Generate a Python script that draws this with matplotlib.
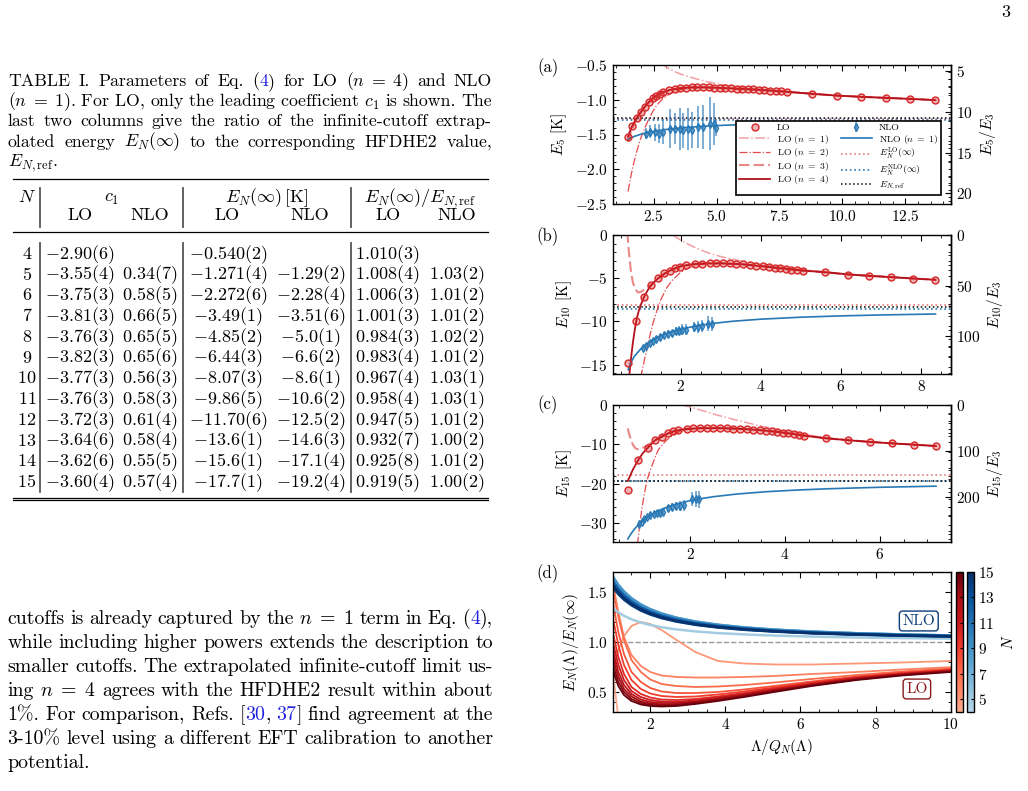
import re
import numpy as np
import matplotlib.pyplot as plt
from matplotlib.colors import ListedColormap, Normalize
from matplotlib.cm import ScalarMappable
from matplotlib.lines import Line2D
from matplotlib.ticker import MultipleLocator, FixedLocator

plt.rcParams['font.family'] = ['cmr10', 'DejaVu Serif']
plt.rcParams['mathtext.fontset'] = 'cm'
plt.rcParams['axes.formatter.use_mathtext'] = True
plt.rcParams['xtick.direction'] = 'in'
plt.rcParams['ytick.direction'] = 'in'
plt.rcParams['xtick.top'] = True
plt.rcParams['ytick.right'] = True
plt.rcParams['xtick.labelsize'] = 11
plt.rcParams['ytick.labelsize'] = 11
plt.rcParams['axes.linewidth'] = 1.0
plt.rcParams['xtick.major.size'] = 4
plt.rcParams['ytick.major.size'] = 4
plt.rcParams['xtick.minor.size'] = 2
plt.rcParams['ytick.minor.size'] = 2

# ---------------- table data ----------------
N_list = [4, 5, 6, 7, 8, 9, 10, 11, 12, 13, 14, 15]
c1_lo = ['-2.90(6)', '-3.55(4)', '-3.75(3)', '-3.81(3)', '-3.76(3)', '-3.82(3)',
         '-3.77(3)', '-3.76(3)', '-3.72(3)', '-3.64(6)', '-3.62(6)', '-3.60(4)']
c1_nlo = ['', '0.34(7)', '0.58(5)', '0.66(5)', '0.65(5)', '0.65(6)',
          '0.56(3)', '0.58(3)', '0.61(4)', '0.58(4)', '0.55(5)', '0.57(4)']
einf_lo = ['-0.540(2)', '-1.271(4)', '-2.272(6)', '-3.49(1)', '-4.85(2)', '-6.44(3)',
           '-8.07(3)', '-9.86(5)', '-11.70(6)', '-13.6(1)', '-15.6(1)', '-17.7(1)']
einf_nlo = ['', '-1.29(2)', '-2.28(4)', '-3.51(6)', '-5.0(1)', '-6.6(2)',
            '-8.6(1)', '-10.6(2)', '-12.5(2)', '-14.6(3)', '-17.1(4)', '-19.2(4)']
ratio_lo = ['1.010(3)', '1.008(4)', '1.006(3)', '1.001(3)', '0.984(3)', '0.983(4)',
            '0.967(4)', '0.958(4)', '0.947(5)', '0.932(7)', '0.925(8)', '0.919(5)']
ratio_nlo = ['', '1.03(2)', '1.01(2)', '1.01(2)', '1.02(2)', '1.01(2)',
             '1.03(1)', '1.03(1)', '1.01(2)', '1.00(2)', '1.01(2)', '1.00(2)']

E3 = -0.1173

# ---------------- panel (a): N = 5 ----------------
a_lo_x = [1.48, 1.65, 1.82, 2.00, 2.14, 2.30, 2.46, 2.60, 2.74, 2.88, 3.12, 3.34, 3.56,
          3.79, 4.01, 4.23, 4.45, 4.68, 4.90, 5.12, 5.34, 5.57, 5.79, 6.01, 6.23, 6.46,
          6.68, 6.90, 7.12, 7.35, 7.57, 7.79, 8.80, 9.77, 10.75, 11.72, 12.70, 13.69]
a_lo_E = [-1.543, -1.377, -1.268, -1.173, -1.102, -1.036, -0.979, -0.945, -0.912, -0.889,
          -0.862, -0.845, -0.835, -0.826, -0.822, -0.821, -0.821, -0.823, -0.826, -0.829,
          -0.832, -0.836, -0.840, -0.844, -0.848, -0.852, -0.857, -0.862, -0.867, -0.873,
          -0.879, -0.886, -0.915, -0.940, -0.958, -0.973, -0.988, -1.005]
a_nlo_x = [2.21, 2.37, 2.54, 2.71, 2.87, 3.13, 3.33, 3.53, 3.66, 3.86, 4.02, 4.26, 4.46,
           4.72, 4.88, 4.99]
a_nlo_E = [-1.486, -1.457, -1.47, -1.486, -1.457, -1.415, -1.415, -1.425, -1.438, -1.425,
           -1.438, -1.39, -1.39, -1.344, -1.344, -1.40]
a_nlo_err = [0.08, 0.10, 0.12, 0.14, 0.18, 0.28, 0.22, 0.30, 0.25, 0.30, 0.26, 0.30, 0.32,
             0.38, 0.30, 0.12]
a_fit_x = [1.48, 1.56, 1.65, 1.74, 1.82, 1.91, 2.0, 2.14, 2.3, 2.46, 2.6, 2.74, 2.88, 3.12,
           3.34, 3.56, 3.79, 4.01, 4.45, 4.9, 5.57, 6.23, 6.9, 7.57, 8.8, 9.77, 10.75,
           11.72, 12.7, 13.69]
a_n4 = [-1.53, -1.45, -1.375, -1.315, -1.265, -1.215, -1.172, -1.103, -1.037, -0.98,
        -0.944, -0.913, -0.89, -0.862, -0.845, -0.834, -0.826, -0.822, -0.821, -0.826,
        -0.836, -0.848, -0.862, -0.879, -0.915, -0.94, -0.958, -0.973, -0.988, -1.005]
a_n3 = [-1.60, -1.50, -1.40, -1.33, -1.275, -1.22, -1.175, -1.104, -1.037, -0.98,
        -0.944, -0.913, -0.89, -0.862, -0.845, -0.834, -0.826, -0.822, -0.821, -0.826,
        -0.836, -0.848, -0.862, -0.879, -0.915, -0.94, -0.958, -0.973, -0.988, -1.005]
a_n2 = [-2.32, -2.16, -2.0, -1.86, -1.75, -1.64, -1.54, -1.41, -1.28, -1.17, -1.09, -1.03,
        -0.98, -0.92, -0.88, -0.855, -0.838, -0.828, -0.822, -0.826, -0.836, -0.848,
        -0.862, -0.879, -0.915, -0.94, -0.958, -0.973, -0.988, -1.005]
a_n1_x = [2.8, 3.0, 3.3, 3.6, 4.0, 4.5, 5.0, 5.57, 6.23, 6.9, 7.57, 8.8, 9.77, 10.75,
          11.72, 12.7, 13.69]
a_n1 = [-0.47, -0.53, -0.59, -0.635, -0.68, -0.73, -0.77, -0.80, -0.83, -0.855, -0.875,
        -0.91, -0.937, -0.957, -0.972, -0.987, -1.004]
a_nlofit_x = [1.48, 1.7, 2.0, 2.3, 2.7, 3.2, 3.8, 4.5, 5.3, 6.3, 7.5, 9.0, 11.0, 13.69]
a_nlofit = [-1.567, -1.531, -1.495, -1.468, -1.442, -1.418, -1.398, -1.381, -1.367,
            -1.355, -1.345, -1.336, -1.327, -1.32]
a_lines = [-1.271, -1.29, -1.261]   # LO inf, NLO inf, ref

# ---------------- panel (b): N = 10 ----------------
b_lo_x = [0.687, 0.878, 1.077, 1.268, 1.435, 1.576, 1.726, 1.85, 1.975, 2.14, 2.35, 2.52,
          2.72, 2.89, 3.06, 3.22, 3.39, 3.56, 3.72, 3.89, 4.06, 4.21, 4.35, 4.47, 4.62,
          4.76, 4.89, 5.05, 5.59, 6.17, 6.71, 7.25, 7.79, 8.36]
b_lo_E = [-14.81, -10.0, -7.23, -5.77, -5.0, -4.42, -4.12, -3.85, -3.65, -3.46, -3.35,
          -3.31, -3.27, -3.27, -3.28, -3.30, -3.35, -3.40, -3.47, -3.55, -3.63, -3.72,
          -3.80, -3.86, -3.93, -4.0, -4.06, -4.12, -4.31, -4.58, -4.73, -4.88, -5.04, -5.19]
b_nlo_x = [1.045, 1.127, 1.227, 1.31, 1.39, 1.476, 1.58, 1.68, 1.77, 1.87, 1.95, 2.03,
           2.14, 2.33, 2.43, 2.53, 2.68, 2.77]
b_nlo_E = [-13.07, -12.88, -12.5, -12.23, -12.04, -11.81, -11.58, -11.42, -11.35, -11.15,
           -11.08, -10.96, -10.96, -10.69, -10.65, -10.58, -10.27, -10.27]
b_nlo_err = [0.2, 0.2, 0.25, 0.25, 0.3, 0.3, 0.35, 0.4, 0.4, 0.45, 0.5, 0.6, 0.6, 0.6,
             0.7, 0.7, 0.9, 0.8]
b_fit_x = [0.687, 0.72, 0.76, 0.8, 0.85, 0.9, 0.95, 1.0, 1.1, 1.2, 1.3, 1.45, 1.6, 1.8,
           2.0, 2.3, 2.6, 3.0, 3.5, 4.0, 4.5, 5.05, 5.6, 6.2, 6.7, 7.25, 7.8, 8.36]
b_n4 = [-17.5, -16.0, -14.2, -12.6, -11.0, -9.7, -8.8, -8.1, -7.0, -6.2, -5.6, -4.95,
        -4.45, -3.95, -3.62, -3.38, -3.29, -3.28, -3.38, -3.60, -3.86, -4.12, -4.31,
        -4.58, -4.73, -4.88, -5.04, -5.19]
b_n3_x = [0.665, 0.7, 0.75, 0.8, 0.85, 0.93, 1.0, 1.1, 1.2, 1.3, 1.45, 1.6, 1.8, 2.0,
          2.3, 2.6, 3.0, 3.5, 4.0, 4.5, 5.05, 5.6, 6.2, 6.7, 7.25, 7.8, 8.36]
b_n3 = [0.3, -1.8, -4.0, -5.4, -6.2, -6.65, -6.6, -6.3, -5.95, -5.6, -5.0, -4.5, -3.98,
        -3.64, -3.39, -3.30, -3.28, -3.38, -3.60, -3.86, -4.12, -4.31, -4.58, -4.73,
        -4.88, -5.04, -5.19]
b_n2_x = [1.0, 1.1, 1.2, 1.3, 1.4, 1.5, 1.65, 1.8, 2.0, 2.2, 2.4, 2.7, 3.0, 3.5, 4.0,
          4.5, 5.05, 5.6, 6.2, 6.7, 7.25, 7.8, 8.36]
b_n2 = [-16.5, -14.3, -12.2, -10.3, -8.8, -7.5, -6.1, -5.2, -4.3, -3.8, -3.48, -3.32,
        -3.29, -3.38, -3.60, -3.86, -4.12, -4.31, -4.58, -4.73, -4.88, -5.04, -5.19]
b_n1_x = [1.8, 2.0, 2.2, 2.4, 2.7, 3.0, 3.4, 3.9, 4.5, 5.05, 5.6, 6.2, 6.7, 7.25, 7.8, 8.36]
b_n1 = [0.0, -0.6, -1.1, -1.55, -2.1, -2.5, -2.9, -3.3, -3.72, -4.02, -4.28, -4.52,
        -4.69, -4.86, -5.02, -5.18]
b_nlofit_x = [0.687, 0.75, 0.85, 1.0, 1.15, 1.3, 1.5, 1.75, 2.0, 2.4, 2.8, 3.3, 4.0, 5.0,
              6.0, 7.0, 8.36]
b_nlofit = [-15.6, -14.8, -14.0, -13.2, -12.6, -12.14, -11.67, -11.23, -10.9, -10.52,
            -10.24, -9.99, -9.75, -9.52, -9.37, -9.26, -9.15]
b_lines = [-8.07, -8.6, -8.345]

# ---------------- panel (c): N = 15 ----------------
c_lo_x = [0.688, 0.912, 1.11, 1.263, 1.404, 1.53, 1.65, 1.754, 1.93, 2.07, 2.21, 2.35,
          2.49, 2.63, 2.77, 2.91, 3.05, 3.19, 3.33, 3.47, 3.60, 3.72, 3.84, 3.96, 4.07,
          4.18, 4.29, 4.39, 4.86, 5.33, 5.79, 6.26, 6.72, 7.18]
c_lo_E = [-21.6, -13.98, -10.85, -8.9, -8.05, -7.2, -6.61, -6.36, -6.08, -5.95, -5.89,
          -5.87, -5.87, -5.89, -5.93, -5.98, -6.05, -6.14, -6.25, -6.38, -6.52, -6.67,
          -6.84, -7.02, -7.2, -7.38, -7.57, -7.76, -8.45, -8.95, -9.38, -9.75, -10.08, -10.42]
c_nlo_x = [0.926, 0.983, 1.038, 1.095, 1.158, 1.23, 1.3, 1.37, 1.44, 1.53, 1.615, 1.7,
           1.79, 1.88, 2.035, 2.12, 2.196]
c_nlo_E = [-30.26, -29.66, -29.07, -28.56, -28.05, -27.71, -27.54, -27.37, -27.12, -26.27,
           -25.85, -25.68, -25.68, -25.51, -23.98, -23.9, -23.98]
c_nlo_err = [0.4, 0.4, 0.45, 0.45, 0.5, 0.5, 0.55, 0.6, 0.7, 0.8, 1.0, 1.1, 1.2, 1.3,
             1.8, 2.0, 2.2]
c_fit_x = [0.688, 0.75, 0.8, 0.86, 0.912, 1.0, 1.11, 1.263, 1.404, 1.53, 1.65, 1.754,
           1.93, 2.21, 2.49, 2.77, 3.05, 3.33, 3.6, 3.84, 4.07, 4.39, 4.86, 5.33, 5.79,
           6.26, 6.72, 7.18]
c_n4 = [-19.3, -17.6, -16.3, -15.0, -13.9, -12.3, -10.85, -8.95, -8.05, -7.25, -6.7,
        -6.42, -6.08, -5.89, -5.87, -5.93, -6.05, -6.25, -6.52, -6.84, -7.2, -7.76,
        -8.45, -8.95, -9.38, -9.75, -10.08, -10.42]
c_n3_x = [0.688, 0.72, 0.76, 0.8, 0.85, 0.91, 0.97, 1.05, 1.16, 1.263, 1.404, 1.53, 1.65,
          1.754, 1.93, 2.21, 2.49, 2.77, 3.05, 3.33, 3.6, 3.84, 4.07, 4.39, 4.86, 5.33,
          5.79, 6.26, 6.72, 7.18]
c_n3 = [-5.93, -7.5, -9.0, -10.2, -11.0, -11.27, -11.1, -10.6, -9.75, -8.95, -8.05, -7.25,
        -6.7, -6.42, -6.08, -5.89, -5.87, -5.93, -6.05, -6.25, -6.52, -6.84, -7.2, -7.76,
        -8.45, -8.95, -9.38, -9.75, -10.08, -10.42]
c_n2_x = [0.89, 0.94, 0.98, 1.03, 1.08, 1.13, 1.19, 1.26, 1.33, 1.42, 1.51, 1.6, 1.69,
          1.8, 1.93, 2.07, 2.21, 2.49, 2.77, 3.05, 3.33, 3.6, 3.84, 4.07, 4.39, 4.86,
          5.33, 5.79, 6.26, 6.72, 7.18]
c_n2 = [-35.5, -30.5, -26.7, -23.0, -19.9, -17.6, -15.7, -13.4, -11.4, -10.0, -8.9,
        -7.95, -7.2, -6.65, -6.25, -6.02, -5.92, -5.88, -5.93, -6.05, -6.25, -6.52,
        -6.84, -7.2, -7.76, -8.45, -8.95, -9.38, -9.75, -10.08, -10.42]
c_n1_x = [1.82, 2.0, 2.28, 2.55, 2.84, 3.1, 3.4, 3.7, 3.96, 4.39, 4.86, 5.33, 5.79, 6.26,
          6.72, 7.18]
c_n1 = [0.0, -0.5, -1.5, -2.5, -3.4, -4.2, -5.1, -5.9, -6.6, -7.45, -8.25, -8.85, -9.3,
        -9.7, -10.05, -10.4]
c_nlofit_x = [0.688, 0.75, 0.83, 0.926, 1.04, 1.16, 1.3, 1.45, 1.62, 1.8, 2.0, 2.2, 2.5,
              3.0, 3.6, 4.3, 5.0, 6.0, 7.18]
c_nlofit = [-34.03, -32.8, -31.49, -30.22, -29.01, -27.99, -27.05, -26.23, -25.5, -24.87,
            -24.3, -23.84, -23.28, -22.6, -22.03, -21.57, -21.24, -20.9, -20.62]
c_lines = [-17.7, -19.2, -19.26]

# right-axis ticks (E_N / E_3)
a_rticks = [5, 10, 15, 20]
b_rticks = [0, 50, 100]
c_rticks = [0, 100, 200]

# ---------------- panel (d): ratio curves ----------------
xd = [1.0, 1.15, 1.3, 1.5, 1.75, 2.0, 2.3, 2.7, 3.2, 3.8, 4.5, 5.3, 6.3, 7.5, 8.7, 10.0]
lo4_x = [1.0, 1.05, 1.1, 1.15]
lo4_r = [0.72, 0.56, 0.40, 0.24]
lo_ratio = [  # N = 5 ... 15
    [0.70, 0.92, 1.06, 1.16, 1.20, 1.18, 1.12, 1.02, 0.90, 0.81, 0.785, 0.775, 0.775, 0.785, 0.795, 0.81],
    [1.60, 1.30, 1.05, 0.87, 0.76, 0.70, 0.665, 0.65, 0.645, 0.645, 0.65, 0.66, 0.68, 0.70, 0.725, 0.748],
    [1.52, 1.25, 1.02, 0.82, 0.70, 0.625, 0.58, 0.56, 0.55, 0.555, 0.57, 0.595, 0.63, 0.67, 0.705, 0.735],
    [1.40, 1.10, 0.88, 0.70, 0.60, 0.54, 0.505, 0.49, 0.49, 0.50, 0.525, 0.56, 0.605, 0.655, 0.695, 0.727],
    [1.25, 0.97, 0.77, 0.62, 0.53, 0.485, 0.46, 0.45, 0.455, 0.475, 0.505, 0.545, 0.595, 0.65, 0.69, 0.722],
    [1.10, 0.85, 0.68, 0.55, 0.48, 0.445, 0.425, 0.42, 0.43, 0.455, 0.49, 0.535, 0.587, 0.645, 0.685, 0.72],
    [1.00, 0.77, 0.62, 0.51, 0.45, 0.42, 0.405, 0.403, 0.415, 0.443, 0.48, 0.527, 0.58, 0.64, 0.68, 0.715],
    [0.92, 0.70, 0.57, 0.48, 0.425, 0.40, 0.39, 0.39, 0.405, 0.435, 0.473, 0.52, 0.575, 0.635, 0.677, 0.712],
    [0.85, 0.65, 0.53, 0.455, 0.405, 0.385, 0.377, 0.38, 0.398, 0.428, 0.467, 0.515, 0.57, 0.63, 0.673, 0.708],
    [0.78, 0.60, 0.50, 0.43, 0.39, 0.372, 0.365, 0.37, 0.39, 0.42, 0.46, 0.51, 0.565, 0.625, 0.67, 0.705],
    [0.72, 0.56, 0.47, 0.41, 0.375, 0.36, 0.355, 0.36, 0.38, 0.41, 0.45, 0.50, 0.56, 0.62, 0.665, 0.70],
]
nlo_ratio = [  # N = 5 ... 15
    [1.34, 1.296, 1.262, 1.227, 1.194, 1.17, 1.148, 1.126, 1.106, 1.089, 1.076, 1.064, 1.054, 1.045, 1.039, 1.034],
    [1.58, 1.504, 1.446, 1.387, 1.331, 1.29, 1.252, 1.215, 1.181, 1.153, 1.129, 1.109, 1.092, 1.077, 1.067, 1.058],
    [1.66, 1.574, 1.508, 1.44, 1.377, 1.33, 1.287, 1.244, 1.206, 1.174, 1.147, 1.125, 1.105, 1.088, 1.076, 1.066],
    [1.65, 1.565, 1.50, 1.433, 1.371, 1.325, 1.283, 1.241, 1.203, 1.171, 1.144, 1.123, 1.103, 1.087, 1.075, 1.065],
    [1.65, 1.565, 1.50, 1.433, 1.371, 1.325, 1.283, 1.241, 1.203, 1.171, 1.144, 1.123, 1.103, 1.087, 1.075, 1.065],
    [1.56, 1.487, 1.431, 1.373, 1.32, 1.28, 1.243, 1.207, 1.175, 1.147, 1.124, 1.106, 1.089, 1.075, 1.064, 1.056],
    [1.58, 1.504, 1.446, 1.387, 1.331, 1.29, 1.252, 1.215, 1.181, 1.153, 1.129, 1.109, 1.092, 1.077, 1.067, 1.058],
    [1.61, 1.53, 1.469, 1.407, 1.349, 1.305, 1.265, 1.226, 1.191, 1.161, 1.136, 1.115, 1.097, 1.081, 1.07, 1.061],
    [1.58, 1.504, 1.446, 1.387, 1.331, 1.29, 1.252, 1.215, 1.181, 1.153, 1.129, 1.109, 1.092, 1.077, 1.067, 1.058],
    [1.55, 1.478, 1.423, 1.367, 1.314, 1.275, 1.239, 1.204, 1.172, 1.145, 1.122, 1.104, 1.087, 1.073, 1.063, 1.055],
    [1.57, 1.496, 1.438, 1.38, 1.326, 1.285, 1.248, 1.211, 1.178, 1.15, 1.127, 1.108, 1.09, 1.076, 1.066, 1.057],
]

RED = '#d62728'
DRED = '#b2121b'
BLUE = '#2878b5'
LINK = '#2222dd'

W, H = 1028, 791
fig = plt.figure(figsize=(W / 100, H / 100), dpi=100)
rend = fig.canvas.get_renderer()


def fx(px):
    return px / W


def fy(py):
    return 1 - py / H


def hline(x0, x1, y, lw=0.9, color='black'):
    fig.add_artist(Line2D([fx(x0), fx(x1)], [fy(y), fy(y)], color=color, lw=lw,
                          transform=fig.transFigure))


def vline(x, y0, y1, lw=1.3, color='#555555'):
    fig.add_artist(Line2D([fx(x), fx(x)], [fy(y0), fy(y1)], color=color, lw=lw,
                          transform=fig.transFigure))


def make_words(line, base, size):
    # words; parts between | are link coloured
    words = re.findall(r'\S*\$[^$]*\$\S*|\S+', line)
    groups = []
    for w in words:
        items = []
        for i, p in enumerate(w.split('|')):
            if p == '':
                continue
            t = fig.text(0, fy(base), p, fontsize=size, va='baseline', ha='left',
                         color=LINK if i % 2 else 'black')
            items.append((t, t.get_window_extent(rend).width))
        groups.append(items)
    return groups


def paragraph(lines, x0, x1, base0, lead, size):
    # shrink the font until every justified line keeps a sensible word gap
    while True:
        ok = True
        for ln in lines[:-1]:
            g = make_words(ln, base0, size)
            used = sum(v for it in g for _, v in it)
            for it in g:
                for t, _ in it:
                    t.remove()
            if x1 - x0 - used < 0.27 * size * 100 / 72 * (len(g) - 1):
                ok = False
                break
        if ok:
            break
        size -= 0.1
    for i, ln in enumerate(lines):
        groups = make_words(ln, base0 + lead * i, size)
        widths = [sum(v for _, v in g) for g in groups]
        if i < len(lines) - 1 and len(groups) > 1:
            gap = (x1 - x0 - sum(widths)) / (len(groups) - 1)
        else:
            gap = size * 100 / 72 * 0.33
        x = x0
        for g in groups:
            for t, v in g:
                t.set_x(fx(x))
                x += v
            x += gap


# ---------------- left column: caption, table, text ----------------
fig.text(fx(1006), fy(12), '3', fontsize=13, ha='center', va='center')

caption = [
    r'TABLE I. Parameters of Eq. (|4|) for LO ($n\;=\;4$) and NLO',
    r'($n\;=\;1$). For LO, only the leading coefficient $c_1$ is shown. The',
    'last two columns give the ratio of the infinite-cutoff extrap-',
    r'olated energy $E_N(\infty)$ to the corresponding HFDHE2 value,',
    r'$E_{N,\mathrm{ref}}$.',
]
paragraph(caption, 8, 492, 86, 20.2, 13.6)

TS = 13
hline(13, 488, 179.3)
hline(13, 488, 231.7)
hline(13, 488, 497.7)
hline(13, 488, 500.3)
for xv in [40, 183.3, 350.7]:
    vline(xv, 188, 227)
    vline(xv, 243, 492)

hdr1 = 202
hdr2 = 220.5
fig.text(fx(26.7), fy(hdr1), '$N$', fontsize=TS, ha='center', va='baseline')
fig.text(fx(111.7), fy(hdr1), '$c_1$', fontsize=TS, ha='center', va='baseline')
fig.text(fx(266.7), fy(hdr1), r'$E_N(\infty)\,$[K]', fontsize=TS, ha='center', va='baseline')
fig.text(fx(420), fy(hdr1), r'$E_N(\infty)/E_{N,\mathrm{ref}}$', fontsize=TS, ha='center',
         va='baseline')
for xv, s in zip([80, 150, 226.7, 310, 388.3, 456.7], ['LO', 'NLO'] * 3):
    fig.text(fx(xv), fy(hdr2), s, fontsize=TS, ha='center', va='baseline')

cols = [(79.2, c1_lo), (149.7, c1_nlo), (228, einf_lo), (310.5, einf_nlo),
        (387.2, ratio_lo), (456.7, ratio_nlo)]
for i, N in enumerate(N_list):
    base = 258.8 + 20.76 * i
    fig.text(fx(27), fy(base), '$%d$' % N, fontsize=TS, ha='center', va='baseline')
    for xv, vals in cols:
        if vals[i]:
            fig.text(fx(xv), fy(base), '$' + vals[i] + '$', fontsize=TS, ha='center',
                     va='baseline')

body = [
    r'cutoffs is already captured by the $n\;=\;1$ term in Eq. (|4|),',
    'while including higher powers extends the description to',
    'smaller cutoffs. The extrapolated infinite-cutoff limit us-',
    r'ing $n\;=\;4$ agrees with the HFDHE2 result within about',
    '1%. For comparison, Refs. [|30|, |37|] find agreement at the',
    '3-10% level using a different EFT calibration to another',
    'potential.',
]
paragraph(body, 7.5, 493, 624, 24, 14.4)


# ---------------- right column: panels ----------------
def energy_panel(ax, lo_x, lo_E, nlo_x, nlo_E, nlo_err, curves, nlofit, hl):
    hl_lo = ax.axhline(hl[0], color=RED, ls=':', lw=1.2, alpha=0.6, zorder=1)
    hl_nlo = ax.axhline(hl[1], color=BLUE, ls=':', lw=1.2, zorder=1)
    hl_ref = ax.axhline(hl[2], color='black', ls=':', lw=1.1, zorder=1)
    (x1, y1), (x2, y2), (x3, y3), (x4, y4) = curves
    l1, = ax.plot(x1, y1, color='#f3a0a5', ls='-.', lw=1.1, zorder=2)
    l2, = ax.plot(x2, y2, color='#e34a4f', ls='-.', lw=0.9, zorder=2)
    l3, = ax.plot(x3, y3, color=RED, ls=(0, (5, 2)), lw=1.5, alpha=0.55, zorder=2)
    l4, = ax.plot(x4, y4, color=DRED, lw=1.3, zorder=3)
    ln, = ax.plot(nlofit[0], nlofit[1], color=BLUE, lw=1.2, zorder=3)
    hlo, = ax.plot(lo_x, lo_E, ls='none', marker='o', ms=5, mec=RED, mew=1.0,
                   mfc=(0.84, 0.15, 0.16, 0.35), zorder=4)
    hnlo = ax.errorbar(nlo_x, nlo_E, yerr=nlo_err, fmt='d', ms=4, color=BLUE,
                       mfc=(0.16, 0.47, 0.71, 0.45), mec=BLUE, ecolor=(0.16, 0.47, 0.71, 0.7),
                       elinewidth=1.2, capsize=0, zorder=4)
    ax.tick_params(right=False)
    return [hlo, l1, l2, l3, l4, hnlo, ln, hl_lo, hl_nlo, hl_ref]


def add_right(ax, label, ticks, minor):
    sec = ax.secondary_yaxis('right', functions=(lambda e: e / E3, lambda r: r * E3))
    lo, hi = sorted(v / E3 for v in ax.get_ylim())
    sec.yaxis.set_major_locator(FixedLocator(ticks))
    sec.yaxis.set_minor_locator(FixedLocator(
        [v for v in np.arange(0, hi + minor, minor) if lo <= v <= hi]))
    sec.tick_params(which='both', direction='in', labelsize=11)
    sec.set_ylabel(label, fontsize=11)
    return sec


left, width = fx(612.7), 338 / W

ax_a = fig.add_axes([left, fy(204), width, 139 / H])
hs = energy_panel(ax_a, a_lo_x, a_lo_E, a_nlo_x, a_nlo_E, a_nlo_err,
                  [(a_n1_x, a_n1), (a_fit_x, a_n2), (a_fit_x, a_n3), (a_fit_x, a_n4)],
                  (a_nlofit_x, a_nlofit), a_lines)
ax_a.set_xlim(0.87, 14.3)
ax_a.set_ylim(-2.5, -0.5)
ax_a.xaxis.set_major_locator(MultipleLocator(2.5))
ax_a.xaxis.set_minor_locator(MultipleLocator(0.5))
ax_a.yaxis.set_major_locator(MultipleLocator(0.5))
ax_a.yaxis.set_minor_locator(MultipleLocator(0.1))
ax_a.set_ylabel('$E_5$ [K]', fontsize=11)
add_right(ax_a, '$E_5/E_3$', a_rticks, 1)
labels = [r'LO', r'LO ($n\;=\;1$)', r'LO ($n\;=\;2$)', r'LO ($n\;=\;3$)', r'LO ($n\;=\;4$)',
          r'NLO', r'NLO ($n\;=\;1$)', r'$E_N^{\mathrm{LO}}(\infty)$',
          r'$E_N^{\mathrm{NLO}}(\infty)$', r'$E_{N,\mathrm{ref}}$']
leg = ax_a.legend(hs, labels, ncol=2, fontsize=7, loc='lower right',
                  bbox_to_anchor=(0.985, 0.03), labelspacing=0.05, handlelength=3.2,
                  columnspacing=1.2, borderpad=0.3, handletextpad=0.7, framealpha=1,
                  fancybox=False)
leg.get_frame().set_edgecolor('black')
leg.get_frame().set_linewidth(1.2)

ax_b = fig.add_axes([left, fy(374), width, 139 / H])
energy_panel(ax_b, b_lo_x, b_lo_E, b_nlo_x, b_nlo_E, b_nlo_err,
             [(b_n1_x, b_n1), (b_n2_x, b_n2), (b_n3_x, b_n3), (b_fit_x, b_n4)],
             (b_nlofit_x, b_nlofit), b_lines)
ax_b.set_xlim(0.30, 8.74)
ax_b.set_ylim(-16.1, 0)
ax_b.xaxis.set_major_locator(MultipleLocator(2))
ax_b.xaxis.set_minor_locator(MultipleLocator(0.5))
ax_b.yaxis.set_major_locator(MultipleLocator(5))
ax_b.yaxis.set_minor_locator(MultipleLocator(1))
ax_b.set_ylabel('$E_{10}$ [K]', fontsize=11)
add_right(ax_b, '$E_{10}/E_3$', b_rticks, 10)

ax_c = fig.add_axes([left, fy(542), width, 137 / H])
energy_panel(ax_c, c_lo_x, c_lo_E, c_nlo_x, c_nlo_E, c_nlo_err,
             [(c_n1_x, c_n1), (c_n2_x, c_n2), (c_n3_x, c_n3), (c_fit_x, c_n4)],
             (c_nlofit_x, c_nlofit), c_lines)
ax_c.set_xlim(0.37, 7.49)
ax_c.set_ylim(-34.8, 0)
ax_c.xaxis.set_major_locator(MultipleLocator(2))
ax_c.xaxis.set_minor_locator(MultipleLocator(0.5))
ax_c.yaxis.set_major_locator(MultipleLocator(10))
ax_c.yaxis.set_minor_locator(MultipleLocator(2))
ax_c.set_ylabel('$E_{15}$ [K]', fontsize=11)
add_right(ax_c, '$E_{15}/E_3$', c_rticks, 20)

# panel (d)
reds = ListedColormap(plt.cm.Reds(np.linspace(0.3, 1.0, 256)))
blues = ListedColormap(plt.cm.Blues(np.linspace(0.3, 1.0, 256)))
norm = Normalize(4, 15)

ax_d = fig.add_axes([left, fy(712), width, 140 / H])
ax_d.axhline(1.0, color='#999999', ls='--', lw=1.0, zorder=1)
ax_d.plot(lo4_x, lo4_r, color=reds(norm(4)), lw=1.3)
for N, r in zip(range(5, 16), lo_ratio):
    ax_d.plot(xd, r, color=reds(norm(N)), lw=1.3)
for N, r in zip(range(5, 16), nlo_ratio):
    ax_d.plot(xd, r, color=blues(norm(N)), lw=1.8)
ax_d.set_xlim(1, 10)
ax_d.set_ylim(0.3, 1.7)
ax_d.xaxis.set_major_locator(MultipleLocator(2))
ax_d.xaxis.set_minor_locator(MultipleLocator(0.5))
ax_d.yaxis.set_major_locator(MultipleLocator(0.5))
ax_d.yaxis.set_minor_locator(MultipleLocator(0.1))
ax_d.set_xlabel(r'$\Lambda/Q_N(\Lambda)$', fontsize=11)
ax_d.set_ylabel(r'$E_N(\Lambda)/E_N(\infty)$', fontsize=11)
ax_d.text(9.15, 1.21, 'NLO', color='#0b3d7a', fontsize=11, ha='center', va='center',
          bbox=dict(boxstyle='round,pad=0.2', fc='white', ec='#0b3d7a', lw=1))
ax_d.text(9.1, 0.53, 'LO', color='#8b1a1a', fontsize=11, ha='center', va='center',
          bbox=dict(boxstyle='round,pad=0.2', fc='white', ec='#8b1a1a', lw=1))

cax1 = fig.add_axes([fx(956), fy(712), 6.5 / W, 140 / H])
cb1 = fig.colorbar(ScalarMappable(norm=norm, cmap=reds), cax=cax1, ticks=[5, 7, 9, 11, 13, 15])
cb1.ax.set_yticklabels([])
cb1.ax.tick_params(direction='in', length=2)
cax2 = fig.add_axes([fx(967), fy(712), 6.5 / W, 140 / H])
cb2 = fig.colorbar(ScalarMappable(norm=norm, cmap=blues), cax=cax2, ticks=[5, 7, 9, 11, 13, 15])
cb2.ax.tick_params(direction='in', length=2, labelsize=11)
cb2.set_label('$N$', fontsize=11)

for lab, py in zip(['(a)', '(b)', '(c)', '(d)'], [68, 237, 405, 574]):
    fig.text(fx(548), fy(py), lab, fontsize=12, ha='center', va='center')

fig.savefig('out.png', dpi=100)
